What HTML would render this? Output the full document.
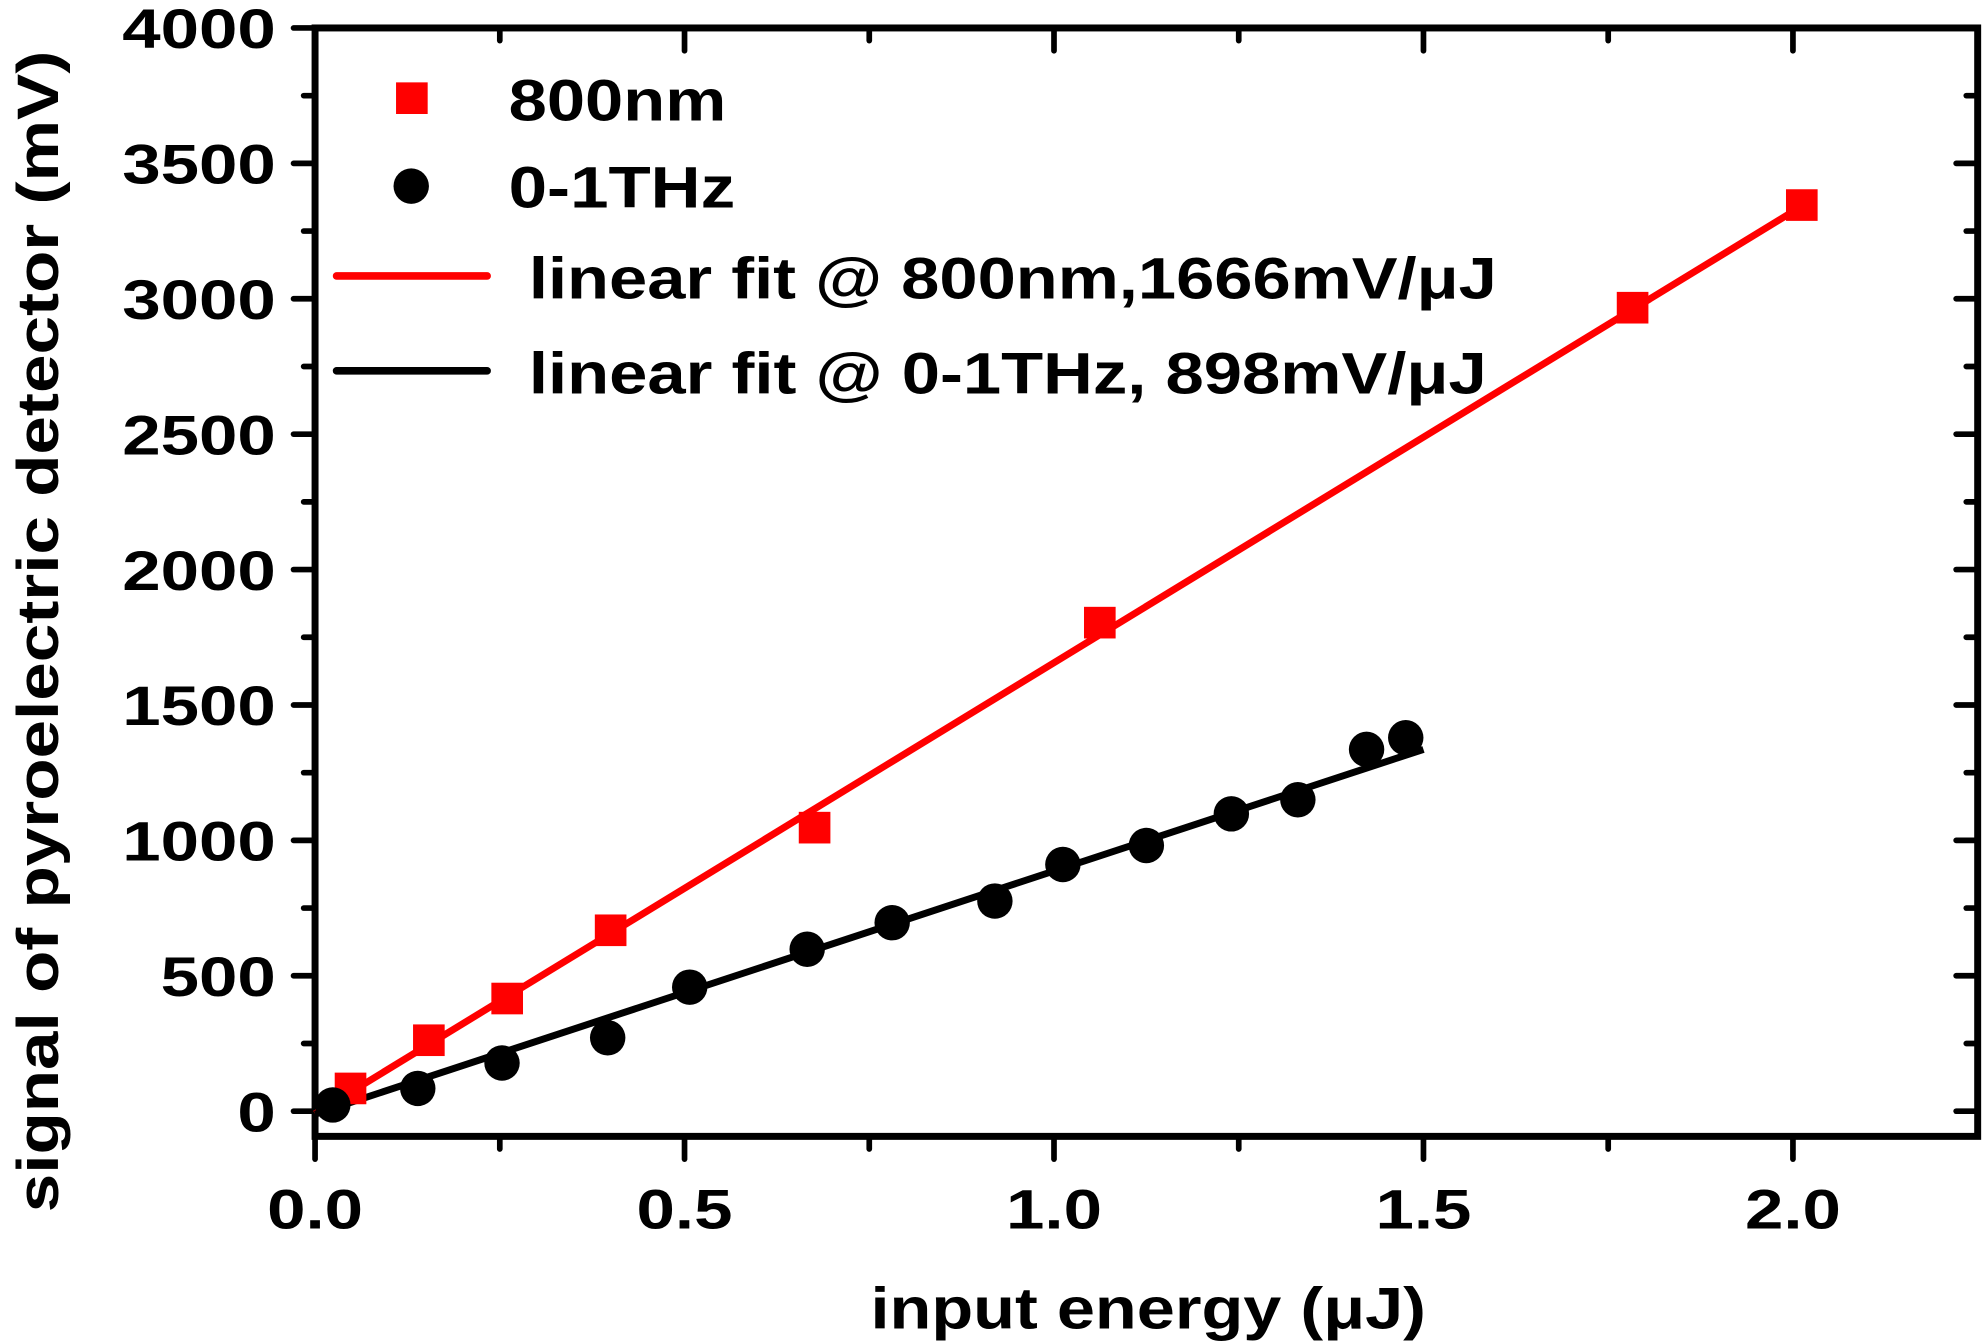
<!DOCTYPE html>
<html><head><meta charset="utf-8">
<style>html,body{margin:0;padding:0;background:#fff;}svg{display:block;}text{font-family:"Liberation Sans",Arial,sans-serif;font-weight:bold;fill:#000;}</style>
</head><body>
<svg id="chart" width="1984" height="1344" viewBox="0 0 1568 1062" xmlns="http://www.w3.org/2000/svg">
<g id="axes"></g>
<g id="marks"></g>
<g id="legend">
  <rect x="313" y="65" width="25" height="25" fill="#ff0000"/>
  <text x="402" y="95" font-size="46" textLength="172" lengthAdjust="spacingAndGlyphs">800nm</text>
  <circle cx="325" cy="147" r="14" fill="#000"/>
  <text x="402" y="164" font-size="46" textLength="179" lengthAdjust="spacingAndGlyphs">0-1THz</text>
  <line x1="266" y1="218" x2="385" y2="218" stroke="#ff0000" stroke-width="6" stroke-linecap="round"/>
  <text x="418" y="236" font-size="46" textLength="765" lengthAdjust="spacingAndGlyphs">linear fit @ 800nm,1666mV/μJ</text>
  <line x1="266" y1="293" x2="385" y2="293" stroke="#000" stroke-width="6" stroke-linecap="round"/>
  <text x="418" y="311" font-size="46" textLength="757" lengthAdjust="spacingAndGlyphs">linear fit @ 0-1THz, 898mV/μJ</text>
</g>
<text x="688" y="1050" font-size="46" textLength="439" lengthAdjust="spacingAndGlyphs">input energy (μJ)</text>
<text transform="translate(46,958) rotate(-90)" font-size="46" textLength="918" lengthAdjust="spacingAndGlyphs">signal of pyroelectric detector (mV)</text>
</svg>
<script>
const xTicks = [0.0, 0.5, 1.0, 1.5, 2.0];
const xTickLabels = ["0.0", "0.5", "1.0", "1.5", "2.0"];
const yTicks = [0, 500, 1000, 1500, 2000, 2500, 3000, 3500, 4000];
const yTickLabels = ["0", "500", "1000", "1500", "2000", "2500", "3000", "3500", "4000"];
const redX = [0.048, 0.154, 0.26, 0.40, 0.676, 1.062, 1.783, 2.012];
const redY = [84, 262, 416, 668, 1047, 1804, 2967, 3346];
const blackX = [0.024, 0.139, 0.253, 0.396, 0.507, 0.666, 0.781, 0.92, 1.012, 1.125, 1.24, 1.33, 1.423, 1.476];
const blackY = [23, 84, 178, 271, 458, 598, 696, 776, 911, 981, 1098, 1150, 1336, 1379];
const redFit = [1666, -10, 0, 2.012];
const blackFit = [898, -11, 0, 1.5];

const L = 249, R = 1563, T = 22, B = 898;
const xMin = 0, xMax = 2.25, yMin = -93, yMax = 4000;
const sx = v => L + (v - xMin) / (xMax - xMin) * (R - L);
const sy = v => B - (v - yMin) / (yMax - yMin) * (B - T);
const NS = "http://www.w3.org/2000/svg";
function mk(tag, attrs, parent) {
  const e = document.createElementNS(NS, tag);
  for (const k in attrs) e.setAttribute(k, attrs[k]);
  parent.appendChild(e);
  return e;
}
function widen(t) {
  const w = t.getComputedTextLength();
  t.setAttribute('textLength', w * 1.24);
  t.setAttribute('lengthAdjust', 'spacingAndGlyphs');
}
const axes = document.getElementById('axes');
const marks = document.getElementById('marks');

let fr = mk('rect', {x: L, y: T, width: R - L, height: B - T, fill: 'none', stroke: '#000', 'stroke-width': 5.5}, axes);



for (let i = 0; i < xTicks.length; i++) {
  const x = sx(xTicks[i]);
  let t = mk('line', {x1: x, y1: B, x2: x, y2: B + 18, stroke: '#000', 'stroke-width': 4.5, 'stroke-linecap': 'round'}, axes);
  
  
  let t2 = mk('line', {x1: x, y1: T, x2: x, y2: T + 18, stroke: '#000', 'stroke-width': 4.5, 'stroke-linecap': 'round'}, axes);
  
  
  let lb = mk('text', {x: x, y: B + 73, 'font-size': 44, 'text-anchor': 'middle'}, axes);
  lb.textContent = xTickLabels[i];
  
  
  widen(lb);
}
for (let v = 0.25; v < xMax; v += 0.5) {
  const x = sx(v);
  let t = mk('line', {x1: x, y1: B, x2: x, y2: B + 10, stroke: '#000', 'stroke-width': 4.5, 'stroke-linecap': 'round'}, axes);
  
  
  let t2 = mk('line', {x1: x, y1: T, x2: x, y2: T + 10, stroke: '#000', 'stroke-width': 4.5, 'stroke-linecap': 'round'}, axes);
  
  
}
for (let i = 0; i < yTicks.length; i++) {
  const y = sy(yTicks[i]);
  let t = mk('line', {x1: L - 17, y1: y, x2: L, y2: y, stroke: '#000', 'stroke-width': 4.5, 'stroke-linecap': 'round'}, axes);
  
  
  let t2 = mk('line', {x1: R - 17, y1: y, x2: R, y2: y, stroke: '#000', 'stroke-width': 4.5, 'stroke-linecap': 'round'}, axes);
  
  
  let lb = mk('text', {x: L - 31, y: y + 16, 'font-size': 44, 'text-anchor': 'end'}, axes);
  lb.textContent = yTickLabels[i];
  
  
  widen(lb);
}
for (let v = 250; v < yMax; v += 500) {
  const y = sy(v);
  let t = mk('line', {x1: L - 9, y1: y, x2: L, y2: y, stroke: '#000', 'stroke-width': 4.5, 'stroke-linecap': 'round'}, axes);
  
  
  let t2 = mk('line', {x1: R - 9, y1: y, x2: R, y2: y, stroke: '#000', 'stroke-width': 4.5, 'stroke-linecap': 'round'}, axes);
  
  
}

let rl = mk('line', {x1: sx(redFit[2]), y1: sy(redFit[0]*redFit[2]+redFit[1]), x2: sx(redFit[3]), y2: sy(redFit[0]*redFit[3]+redFit[1]), stroke: '#ff0000', 'stroke-width': 5.5}, marks);


let bl = mk('line', {x1: sx(blackFit[2]), y1: sy(blackFit[0]*blackFit[2]+blackFit[1]), x2: sx(blackFit[3]), y2: sy(blackFit[0]*blackFit[3]+blackFit[1]), stroke: '#000', 'stroke-width': 5.5}, marks);



for (let i = 0; i < redX.length; i++) {
  let p = mk('rect', {x: sx(redX[i]) - 12.5, y: sy(redY[i]) - 12.5, width: 25, height: 25, fill: '#ff0000'}, marks);
  
  
}
for (let i = 0; i < blackX.length; i++) {
  let p = mk('circle', {cx: sx(blackX[i]), cy: sy(blackY[i]), r: 14, fill: '#000'}, marks);
  
  
}
</script>
</body></html>
